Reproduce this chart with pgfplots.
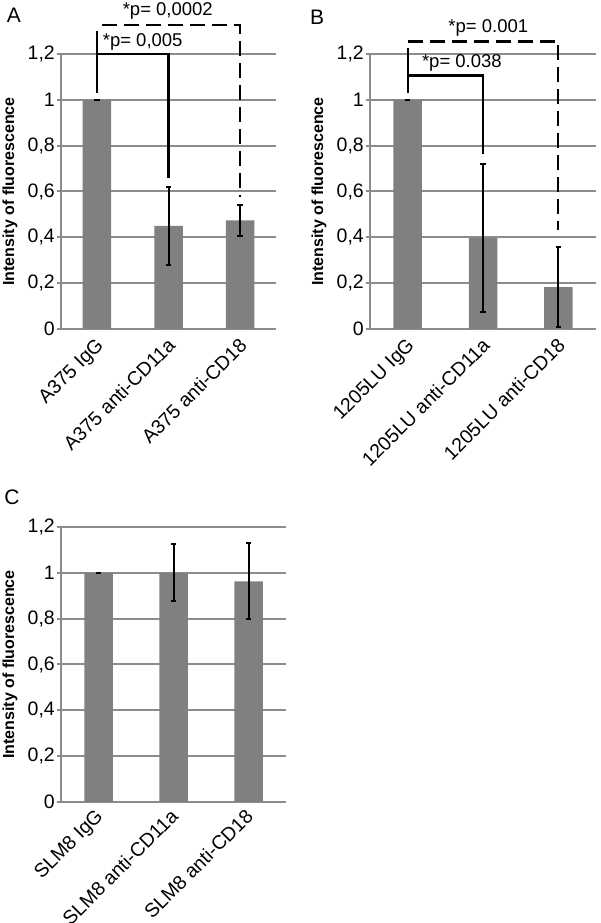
\documentclass[border=0pt]{standalone}
\usepackage{fontspec}
\setmainfont{Liberation Sans}
\usepackage{pgfplots}
\pgfplotsset{compat=1.18}
\definecolor{bargray}{RGB}{128,128,128}
\definecolor{gridgray}{RGB}{140,140,140}
\pgfplotsset{
  panel/.style={
    scale only axis, clip=false,
    ymin=0, ymax=1.2, xmin=0.5, xmax=3.5,
    height=275pt,
    axis x line*=bottom, axis y line*=left,
    axis line style={gridgray, line width=2pt, -},
    ytick={0,0.2,0.4,0.6,0.8,1,1.2},
    yticklabels={0,{0,2},{0,4},{0,6},{0,8},1,{1,2}},
    ymajorgrids, major grid style={gridgray, line width=2pt},
    tick align=outside, major tick length=4pt,
    tick style={gridgray, line width=2pt},
    xtick={1,2,3},
    x tick style={draw=none},
    extra x ticks={0.5,1.5,2.5,3.5}, extra x tick labels={},
    extra x tick style={grid=none, major tick length=5pt, tick style={draw=gridgray, line width=2pt}},
    tick label style={font=\fontsize{19.5}{20}\selectfont},
    x tick label style={rotate=45, anchor=north east, inner sep=1pt, xshift=-3pt},
    y tick label style={inner sep=2pt},
    ylabel style={at={([xshift=-51pt]axis description cs:0,0.5)}, anchor=center,
      font=\fontsize{16}{17}\selectfont\bfseries},
    ylabel={Intensity of fluorescence},
  },
  bars/.style={ybar, fill=bargray, draw=none, bar width=28.5pt,
    error bars/.cd, y dir=both, y explicit,
    error bar style={black, line width=2pt},
    error mark options={rotate=90, black, line width=2pt, mark size=2.7pt}},
}
\tikzset{
  brk/.style={black, line width=2.3pt},
  dbrk/.style={black, line width=2.3pt, dash pattern=on 15pt off 7pt},
  plab/.style={font=\fontsize{18.5}{19}\selectfont, inner sep=0pt},
}
\begin{document}
\begin{tikzpicture}
\path[use as bounding box] (0pt,0pt) rectangle (600pt,923pt);
% Panel A
\begin{axis}[panel, at={(61pt,594pt)}, anchor=south west, width=215pt,
  xticklabels={A375 IgG, A375 anti-CD11a, A375 anti-CD18}]
\addplot[bars] coordinates {(1,1) +- (0,0) (2,0.45) +- (0,0.17) (3,0.474) +- (0,0.068)};
\draw[brk] (axis cs:1,1.03) -- (axis cs:1,1.30);
\draw[brk] (axis cs:1,1.2) -- (axis cs:2,1.2) -- (axis cs:2,0.659);
\draw[dbrk] (axis cs:1.07,1.326) -- (axis cs:3,1.326) -- (axis cs:3,0.576);
\node[plab] at (axis cs:1.64,1.252) {*p= 0,005};
\node[plab] at (axis cs:1.99,1.387) {*p= 0,0002};
\end{axis}
% Panel B
\begin{axis}[panel, at={(370pt,594pt)}, anchor=south west, width=226pt,
  xticklabels={1205LU IgG, 1205LU anti-CD11a, 1205LU anti-CD18}]
\addplot[bars] coordinates {(1,1) +- (0,0) (2,0.396) +- (0,0.322) (3,0.183) +- (0,0.175)};
\draw[brk] (axis cs:1,1.03) -- (axis cs:1,1.16);
\draw[brk] (axis cs:1,1.106) -- (axis cs:2,1.106) -- (axis cs:2,0.762);
\draw[dbrk] (axis cs:1,1.16) -- (axis cs:1,1.254) -- (axis cs:3,1.254) -- (axis cs:3,0.432);
\node[plab] at (axis cs:1.72,1.16) {*p= 0.038};
\node[plab] at (axis cs:2.07,1.313) {*p= 0.001};
\end{axis}
% Panel C
\begin{axis}[panel, at={(61pt,121pt)}, anchor=south west, width=225pt,
  x tick label style={yshift=3pt},
  xticklabels={SLM8 IgG, SLM8 anti-CD11a, SLM8 anti-CD18}]
\addplot[bars] coordinates {(1,1) +- (0,0) (2,1.0) +- (0,0.124) (3,0.963) +- (0,0.165)};
\end{axis}
\node[font=\fontsize{21}{21}\selectfont] at (14pt,908pt) {A};
\node[font=\fontsize{21}{21}\selectfont] at (317pt,906pt) {B};
\node[font=\fontsize{21}{21}\selectfont] at (12pt,426pt) {C};
\end{tikzpicture}
\end{document}
